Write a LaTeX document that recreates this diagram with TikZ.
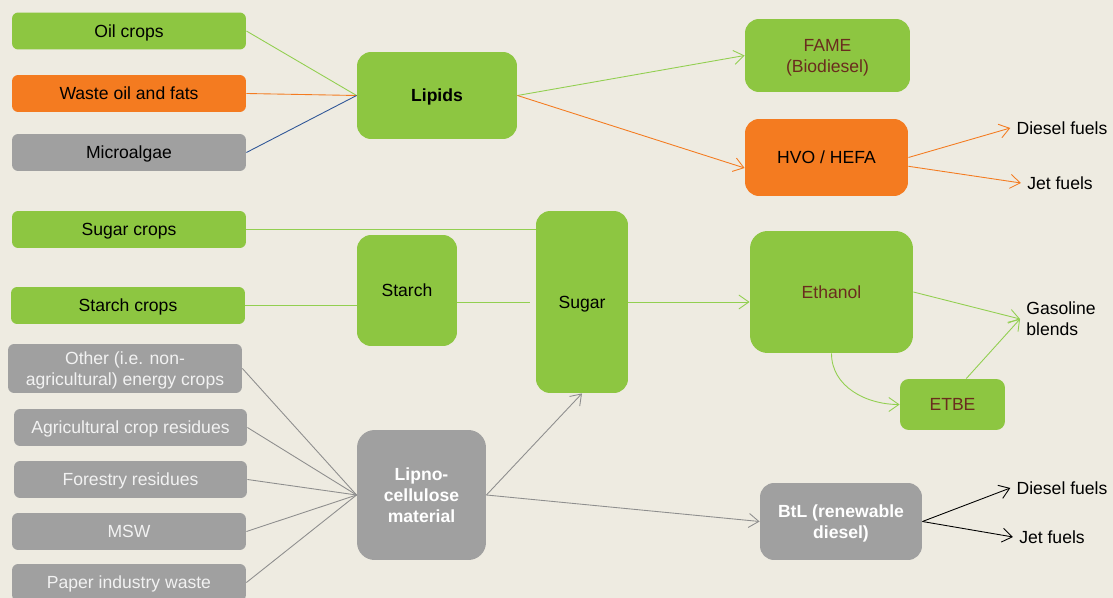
\documentclass[tikz,border=0pt]{standalone}
\usepackage{fontspec}
\setmainfont{Liberation Sans}
\usepackage{tikz}
\usetikzlibrary{arrows.meta}

\definecolor{bgbeige}{HTML}{EEEBE1}
\definecolor{leaf}{HTML}{8DC641}
\definecolor{leafline}{HTML}{92CF50}
\definecolor{rust}{HTML}{F47B20}
\definecolor{stone}{HTML}{A0A0A0}
\definecolor{stoneline}{HTML}{8E8E8E}
\definecolor{navyline}{HTML}{2E5597}
\definecolor{brownish}{HTML}{6A2C1E}

\tikzset{
  box/.style={rectangle, rounded corners=3.5pt, align=center, inner sep=2pt, text depth=0pt,
    font=\fontsize{10}{12}\selectfont, minimum width=4.68cm, minimum height=0.74cm},
  bigbox/.style={box, rounded corners=8pt},
  tip/.style={-{Straight Barb[length=2mm,width=2.8mm]}},
  fuel/.style={font=\fontsize{10}{12}\selectfont, align=left}
}

\begin{document}
\begin{tikzpicture}[x=0.02cm, y=-0.02cm, line width=0.5pt]
\fill[bgbeige] (0,0) rectangle (1113,598);
\useasboundingbox (0,0) rectangle (1113,598);

% feedstocks
\begin{scope}[every node/.style={box}]
  \node[fill=leaf] (oil) at (129,31) {Oil crops};
  \node[fill=rust] (waste) at (129,93.5) {Waste oil and fats};
  \node[fill=stone] (algae) at (129,152.5) {Microalgae};
  \node[fill=leaf] (sugc) at (129,229.5) {Sugar crops};
  \node[fill=leaf] (starchc) at (128,305.5) {Starch crops};
  \node[fill=stone, text=white!95!black, minimum height=0.98cm] (other) at (125,368.5) {Other (i.e. non-\\agricultural) energy crops};
  \node[fill=stone, text=white!95!black, minimum width=4.66cm] (agri) at (130.5,427.5) {Agricultural crop residues};
  \node[fill=stone, text=white!95!black, minimum width=4.66cm] (forest) at (130.5,479.5) {Forestry residues};
  \node[fill=stone, text=white!95!black] (msw) at (129,531.5) {MSW};
  \node[fill=stone, text=white!95!black] (paper) at (129,582.5) {Paper industry waste};
\end{scope}

% intermediates and products
\begin{scope}[every node/.style={bigbox}]
  \node[fill=leaf, font=\fontsize{10}{12}\selectfont\bfseries, minimum width=3.2cm, minimum height=1.74cm] (lip) at (437,95.5) {Lipids};
  \node[fill=leaf, text=brownish, minimum width=3.3cm, minimum height=1.46cm] (fame) at (827.5,55.5) {FAME\\(Biodiesel)};
  \node[fill=rust, minimum width=3.26cm, minimum height=1.54cm] (hvo) at (826.5,157.5) {HVO / HEFA};
  \node[fill=leaf, minimum width=2cm, minimum height=2.22cm] (starch) at (407,290.5) {Starch};
  \node[fill=leaf, minimum width=1.84cm, minimum height=3.64cm] (sug) at (582,302) {Sugar};
  \node[fill=leaf, text=brownish, rounded corners=10pt, minimum width=3.26cm, minimum height=2.44cm] (eth) at (831.5,292) {Ethanol};
  \node[fill=leaf, text=brownish, rounded corners=5pt, minimum width=2.1cm, minimum height=1.02cm] (etbe) at (952.5,404.5) {ETBE};
  \node[fill=stone, text=white, font=\fontsize{10}{12}\selectfont\bfseries, rounded corners=10pt, minimum width=2.58cm, minimum height=2.6cm] (lig) at (421.5,495) {Lipno-\\cellulose\\material};
  \node[fill=stone, text=white, font=\fontsize{10}{12}\selectfont\bfseries, minimum width=3.24cm, minimum height=1.54cm] (btl) at (841,521.5) {BtL (renewable\\diesel)};
\end{scope}

% fuels
\begin{scope}[every node/.style={fuel}]
  \node (dies1) at (1062,128) {Diesel fuels};
  \node (jet1) at (1060,183) {Jet fuels};
  \node (gas) at (1061,319) {Gasoline\\blends};
  \node (dies2) at (1062,488) {Diesel fuels};
  \node (jet2) at (1052,537) {Jet fuels};
\end{scope}

% lipid route
\draw[leafline] (oil.east) -- (lip.west);
\draw[rust] (waste.east) -- (lip.west);
\draw[navyline] (algae.east) -- (lip.west);
\draw[leafline, tip] (lip.east) -- (fame.west);
\draw[rust, tip] (lip.east) -- (hvo.south west |- 0,168);
\draw[rust, tip] (hvo.east) -- (dies1.west);
\draw[rust, tip] ([yshift=-5]hvo.east) -- (jet1.west);

% sugar route
\draw[leafline] (sugc.east) -- (sugc.east -| sug.west);
\draw[leafline] (starchc.east) -- (starchc.east -| starch.west);
\draw[leafline, shorten >=1.2mm] (starch.east |- sug.west) -- (sug.west);
\draw[leafline, tip] (sug.east) -- (sug.east -| eth.west);
\draw[leafline, tip] (eth.east) -- (gas.west);
\draw[leafline, tip] (etbe.62) -- (gas.west);
\draw[leafline, tip] (eth.south) to[out=-90, in=180] (etbe.west);

% lignocellulose route
\foreach \src in {other, agri, forest, msw, paper}
  \draw[stoneline] (\src.east) -- (lig.west);
\draw[stoneline, tip] (lig.east) -- (sug.south);
\draw[stoneline, tip] (lig.east) -- (btl.west);
\draw[black, tip] (btl.east) -- (dies2.west);
\draw[black, tip] (btl.east) -- (jet2.west);

\end{tikzpicture}
\end{document}
